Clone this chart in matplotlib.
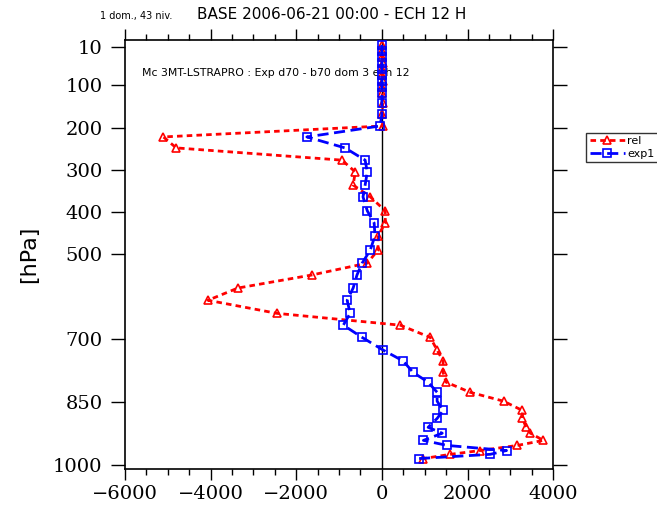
import matplotlib.pyplot as plt
from matplotlib.ticker import MultipleLocator

# pressure levels (hPa)
levels = [4, 18, 32, 46, 61, 75, 89, 103, 118, 142, 168, 196, 222, 248, 277, 305,
          336, 364, 397, 426, 456, 490, 521, 549, 580, 609, 640, 668, 697, 727,
          753, 780, 803, 827, 848, 870, 889, 910, 924, 941, 953, 965, 974, 984]

rel = [10, 15, 10, 20, 15, 10, 20, 15, 10, 20, 15, 30, -5100, -4800, -930, -620,
       -670, -270, 80, 80, -90, -90, -340, -1630, -3360, -4060, -2450, 430, 1130, 1290,
       1430, 1430, 1500, 2060, 2840, 3280, 3280, 3370, 3470, 3770, 3160, 2300, 1600, 970]

exp1 = [0, 0, 0, 0, 0, 0, 0, 0, 0, 0, 0, -40, -1750, -860, -390, -340,
        -390, -440, -340, -180, -160, -270, -460, -580, -670, -810, -740, -900, -460, 30,
        500, 730, 1080, 1290, 1290, 1430, 1290, 1080, 1410, 970, 1530, 2910, 2530, 870]

ytick_vals = [10, 100, 200, 300, 400, 500, 700, 850, 1000]
xtick_vals = [-6000, -4000, -2000, 0, 2000, 4000]
xtick_labels = ["\u22126000", "\u22124000", "\u22122000", "0", "2000", "4000"]

fig = plt.figure(figsize=(6.57, 5.11), dpi=100)
ax = fig.add_axes([0.190, 0.082, 0.652, 0.840])

ax.axvline(0, color="black", lw=1.0, zorder=1)
ax.plot(rel, levels, color="red", ls=(0, (2, 1.5)), lw=2, marker="^",
        mfc="none", mec="red", ms=6, mew=1.2, label="rel", zorder=3)
ax.plot(exp1, levels, color="blue", ls=(0, (4, 2)), lw=2, marker="s",
        mfc="none", mec="blue", ms=6, mew=1.2, label="exp1", zorder=3)

ax.set_xlim(-6000, 4000)
ax.set_ylim(1009, -8)
ax.set_xticks(xtick_vals)
ax.set_xticklabels(xtick_labels, family="DejaVu Serif", fontsize=14)
ax.xaxis.set_minor_locator(MultipleLocator(500))
ax.set_yticks(ytick_vals)
ax.set_yticklabels([str(v) for v in ytick_vals], family="DejaVu Serif", fontsize=14)
ax.tick_params(axis="x", which="major", direction="out", length=8, width=1,
               top=True, labeltop=False)
ax.tick_params(axis="x", which="minor", direction="out", length=4, width=1, top=True)
ax.tick_params(axis="y", which="major", direction="out", length=10, width=1,
               right=True, pad=6)
for s in ax.spines.values():
    s.set_linewidth(1.2)

ax.set_ylabel("[hPa]", fontsize=16, labelpad=10)

fig.text(0.152, 0.962, "1 dom., 43 niv.", fontsize=7)
fig.text(0.505, 0.962, "BASE 2006-06-21 00:00 - ECH 12 H", fontsize=11, ha="center")
ax.text(0.04, 0.915, "Mc 3MT-LSTRAPRO : Exp d70 - b70 dom 3 ech 12", transform=ax.transAxes,
        fontsize=7.8, zorder=0)

leg = ax.legend(loc="upper left", bbox_to_anchor=(1.077, 0.783), fontsize=8,
                frameon=True, fancybox=False, edgecolor="black", handlelength=3.2,
                handletextpad=0.2, borderpad=0.3, labelspacing=0.2, borderaxespad=0)
leg.get_frame().set_linewidth(1)

fig.savefig("out.png", dpi=100)
